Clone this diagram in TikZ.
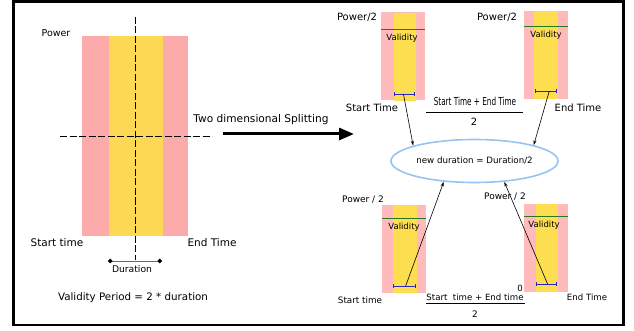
\documentclass[tikz,border=0pt]{standalone}
\usepackage{fontspec}
\setmainfont{DejaVu Sans}
\usetikzlibrary{shapes.geometric, arrows.meta, positioning}

\definecolor{slotpink}{RGB}{252,170,170}
\definecolor{slotyellow}{RGB}{252,216,84}
\definecolor{halfpink}{RGB}{255,187,187}
\definecolor{halfyellow}{RGB}{253,222,80}
\definecolor{cutgreen}{RGB}{40,120,30}
\definecolor{durblue}{RGB}{40,40,190}
\definecolor{durpurple}{RGB}{130,70,230}
\definecolor{ringblue}{RGB}{150,195,240}

\tikzset{
  band/.style={rectangle, inner sep=0pt},
  halfpinkbox/.style={band, fill=halfpink, minimum width=44pt, minimum height=88pt},
  halfyellowbox/.style={band, fill=halfyellow, minimum width=22pt, minimum height=88pt},
  cutline/.style={cutgreen, line width=0.9pt},
  durbar/.style={durblue, line width=0.9pt, {Bar[width=4pt]}-{Bar[width=4pt]}},
  axisline/.style={black, line width=0.8pt, dash pattern=on 7pt off 2.5pt},
  link/.style={-{Stealth[length=5pt, width=3pt]}, line width=0.6pt},
  txt/.style={inner sep=0pt, font=\fontsize{#1}{#1}\selectfont},
  txt/.default=10
}

\begin{document}
\begin{tikzpicture}[x=1pt, y=-1pt]
    \useasboundingbox (0,0) rectangle (634,331);
    \draw[line width=2.5pt] (13.5,1.5) rectangle (623.5,325);

    % full slot before splitting
    \node [band, fill=slotpink, minimum width=106pt, minimum height=200pt] (slot) at (135,136) {};
    \node [band, fill=slotyellow, minimum width=54pt, minimum height=200pt] (valid) at (136,136) {};
    \draw [axisline] (135,17) -- (135,260);
    \draw [axisline] (60,136) -- (212,136);
    \node [txt=9.5] (power) at (56,33) {Power};
    \node [txt=10.5] (start) at (57,243) {Start time};
    \node [txt=10.5] (end) at (212,243) {End Time};
    \draw [durpurple, line width=0.9pt, {Circle[length=4.5pt, color=black]}-{Circle[length=4.5pt, color=black]}] (108,261) -- (162,261);
    \node [txt=9.2] (dur) at (132,269) {Duration};
    \node [txt=10.3] (period) at (133,298) {Validity Period = 2 * duration};

    % splitting arrow
    \node [txt=10.6] (split) at (261,120) {Two dimensional Splitting};
    \coordinate (splitfrom) at (223,134);
    \coordinate (splitto) at (354,134);
    \draw [line width=3pt, -{Triangle[length=15pt, width=12pt]}] (splitfrom) -- (splitto);

    % new duration
    \node [ellipse, draw=ringblue, line width=1.6pt, minimum width=167pt, minimum height=43pt, inner sep=0pt,
           font=\fontsize{8.7}{9}\selectfont] (newdur) at (474.5,161) {new duration = Duration/2};

    % upper half, start side
    \node [halfpinkbox] (tlp) at (403,56.5) {};
    \node [halfyellowbox] (tly) at (404.5,57) {};
    \draw [cutline] (381,29) -- (425,29);
    \node [txt=8.5] (tlval) at (402,38) {Validity};
    \draw [durbar] (394,94) -- node [coordinate, pos=0.45] (tlbar) {} (415,94);
    \node [txt] (tlpow) at (357,17) {Power/2};
    \node [txt] (tlstart) at (372,108) {Start Time};

    % upper half, end side
    \node [halfpinkbox] (trp) at (546,55) {};
    \node [halfyellowbox, minimum width=24pt] (try) at (546,55.5) {};
    \draw [cutline] (524,26) -- (568,26);
    \node [txt=8.5] (trval) at (546,35) {Validity};
    \draw [durbar] (535,91) -- node [coordinate, pos=0.65] (trbar) {} (557,91);
    \node [txt] (trpow) at (497,17) {Power/2};
    \node [txt] (trend) at (578,108) {End Time};

    % lower half, start side
    \node [halfpinkbox] (blp) at (404,249) {};
    \node [halfyellowbox, minimum width=24pt] (bly) at (405,249) {};
    \draw [cutline] (382,218) -- (426,218);
    \node [txt=8.5] (blval) at (404,227) {Validity};
    \draw [durbar] (393,286) -- node [coordinate, pos=0.55] (blbar) {} (416,286);
    \node [txt=9] (blpow) at (363,200) {Power / 2};
    \node [txt=8.8] (blstart) at (360,300) {Start time};

    % lower half, end side
    \node [halfpinkbox] (brp) at (546,247.5) {};
    \node [halfyellowbox] (bry) at (547,248) {};
    \draw [cutline] (524,216) -- (568,216);
    \node [txt=8.5] (brval) at (544,225) {Validity};
    \draw [durbar] (536,284) -- node [coordinate, pos=0.55] (brbar) {} (557,284);
    \node [txt=9] (brpow) at (505,197) {Power / 2};
    \node [txt=8.6] (brzero) at (520,288) {0};
    \node [txt=8.6] (brend) at (587,297) {End Time};

    % midpoints
    \node [txt=11] (topmid) at (475,101) {\scalebox{0.66}[1]{Start Time + End Time}};
    \draw [line width=0.8pt] (426,112) -- (523,112);
    \node [txt=10] (toptwo) at (474,122) {2};
    \node [txt=8.6] (botmid) at (475,297) {Start\ \ time + End time};
    \draw [line width=0.8pt] (426,303) -- (525,303);
    \node [txt=9] (bottwo) at (475,314) {2};

    \draw [link] (tlbar) -- (newdur.166);
    \draw [link] (trbar) -- (newdur.15);
    \draw [link] (blbar) -- (newdur.214);
    \draw [link] (brbar) -- (newdur.-35);
\end{tikzpicture}
\end{document}
